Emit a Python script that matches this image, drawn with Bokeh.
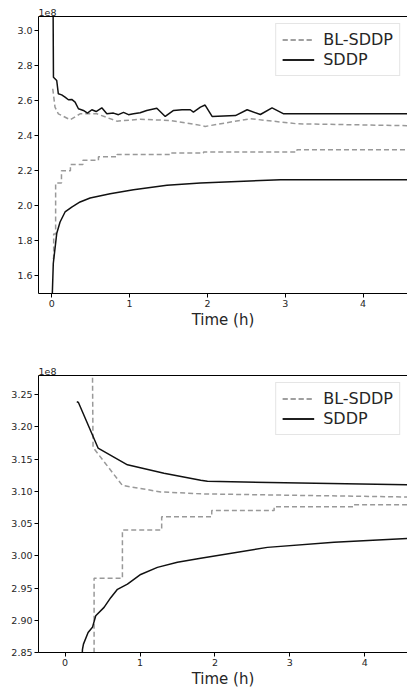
from bokeh.plotting import figure
from bokeh.layouts import column
from bokeh.models import (Range1d, LinearAxis, FixedTicker, NumeralTickFormatter,
                          Legend, LegendItem)
from bokeh.embed import file_html
from bokeh.resources import INLINE

# ---------------- data (objective values in units of 1e8, time in hours) ----
# top panel
top_sddp_ub_t = [0.012, 0.022, 0.064, 0.085, 0.128, 0.171, 0.214, 0.257, 0.3, 0.343,
                 0.407, 0.459, 0.515, 0.57, 0.643, 0.708, 0.793, 0.857, 0.922, 0.986,
                 1.05, 1.136, 1.22, 1.35, 1.458, 1.565, 1.673, 1.78, 1.82, 1.91, 1.97,
                 2.06, 2.36, 2.51, 2.68, 2.83, 2.98, 4.6]
top_sddp_ub_v = [3.6, 2.734, 2.715, 2.639, 2.633, 2.62, 2.605, 2.607, 2.592, 2.554,
                 2.544, 2.529, 2.548, 2.538, 2.559, 2.525, 2.529, 2.52, 2.533, 2.52,
                 2.525, 2.531, 2.544, 2.557, 2.51, 2.544, 2.548, 2.548, 2.535, 2.563, 2.575,
                 2.51, 2.515, 2.548, 2.521, 2.559, 2.525, 2.525]
top_sddp_lb_t = [0.004, 0.02, 0.064, 0.107, 0.171, 0.257, 0.364, 0.493, 0.75, 1.05,
                 1.48, 1.91, 2.94, 4.6]
top_sddp_lb_v = [1.45, 1.671, 1.842, 1.908, 1.965, 1.993, 2.022, 2.045, 2.069, 2.092,
                 2.117, 2.13, 2.149, 2.149]
top_bl_ub_t = [0.013, 0.042, 0.085, 0.236, 0.364, 0.579, 0.837, 1.136, 1.52, 1.91,
               1.97, 2.55, 3.15, 4.6]
top_bl_ub_v = [2.668, 2.563, 2.525, 2.491, 2.525, 2.525, 2.483, 2.494, 2.487, 2.459,
               2.453, 2.497, 2.468, 2.457]
top_bl_lb_t = [0.012, 0.025, 0.05, 0.125, 0.24, 0.40, 0.60, 0.84, 1.52, 1.95, 3.15, 4.6]
top_bl_lb_v = [1.70, 1.84, 2.13, 2.20, 2.236, 2.26, 2.28, 2.293, 2.301, 2.307, 2.32, 2.32]

# bottom panel
bot_sddp_ub_t = [0.156, 0.178, 0.44, 0.832, 1.32, 1.81, 1.9, 4.6]
bot_sddp_ub_v = [3.239, 3.2376, 3.167, 3.141, 3.128, 3.117, 3.1154, 3.110]
bot_sddp_lb_t = [0.225, 0.232, 0.245, 0.307, 0.365, 0.409, 0.52, 0.609, 0.699, 0.832,
                 1.009, 1.232, 1.499, 1.81, 2.7, 3.59, 4.6]
bot_sddp_lb_v = [2.84, 2.855, 2.863, 2.881, 2.889, 2.907, 2.92, 2.935, 2.948, 2.956,
                 2.971, 2.982, 2.99, 2.996, 3.013, 3.021, 3.027]
bot_bl_ub_t = [0.358, 0.373, 0.765, 1.276, 1.81, 4.6]
bot_bl_ub_v = [3.40, 3.168, 3.109, 3.099, 3.096, 3.091]
bot_bl_lb_t = [0.386, 0.387, 0.765, 1.289, 1.957, 2.79, 3.85, 4.6]
bot_bl_lb_v = [2.80, 2.965, 3.040, 3.0605, 3.070, 3.076, 3.079, 3.079]

x_ticks = [0, 1, 2, 3, 4]
top_y_ticks = [1.6, 1.8, 2.0, 2.2, 2.4, 2.6, 2.8, 3.0]
bot_y_ticks = [2.85, 2.90, 2.95, 3.00, 3.05, 3.10, 3.15, 3.20, 3.25]

SDDP_COLOR = "#111111"
BL_COLOR = "#999999"
TICK_FONT = "9.5px"
FONT = "DejaVu Sans"


def make_panel(height, top_border, bottom_border, xr, yr, yticks, yfmt,
               sddp_ub, sddp_lb, bl_ub, bl_lb):
    p = figure(width=407, height=height, output_backend="svg", toolbar_location=None,
               x_range=Range1d(*xr), y_range=Range1d(*yr),
               min_border_left=38, min_border_right=0,
               min_border_top=top_border, min_border_bottom=bottom_border,
               title="1e8")
    p.grid.visible = False
    p.outline_line_color = None
    p.background_fill_color = "white"
    p.title.text_font = FONT
    p.title.text_font_size = TICK_FONT
    p.title.text_font_style = "normal"
    p.title.text_color = "#262626"
    p.title.align = "left"
    p.title.standoff = 1
    p.title.offset = 0

    xax = p.below[0]
    yax = p.left[0]
    for ax in (xax, yax):
        ax.axis_line_color = "black"
        ax.major_tick_line_color = "black"
        ax.minor_tick_line_color = None
        ax.major_tick_out = 4
        ax.major_tick_in = 0
        ax.major_label_text_font = FONT
        ax.major_label_text_font_size = TICK_FONT
        ax.major_label_text_color = "#262626"
        ax.major_label_standoff = 2
    xax.ticker = FixedTicker(ticks=x_ticks)
    yax.ticker = FixedTicker(ticks=yticks)
    yax.formatter = NumeralTickFormatter(format=yfmt)
    xax.axis_label = "Time (h)"
    xax.axis_label_text_font = FONT
    xax.axis_label_text_font_size = "15px"
    xax.axis_label_text_font_style = "normal"
    xax.axis_label_text_color = "#262626"
    xax.axis_label_standoff = 1

    # top spine
    top_ax = LinearAxis(ticker=FixedTicker(ticks=[]), major_tick_out=0, major_tick_in=0,
                        minor_tick_out=0, minor_tick_in=0,
                        major_label_text_font_size="0px", axis_line_color="black",
                        axis_line_width=1, major_label_standoff=0)
    p.add_layout(top_ax, "above")

    r_bl1 = p.line(bl_ub[0], bl_ub[1], color=BL_COLOR, line_width=1.5, line_dash="5 3")
    r_bl2 = p.step(bl_lb[0], bl_lb[1], mode="after", color=BL_COLOR, line_width=1.5,
                   line_dash="5 3")
    r_s1 = p.line(sddp_ub[0], sddp_ub[1], color=SDDP_COLOR, line_width=1.5)
    r_s2 = p.line(sddp_lb[0], sddp_lb[1], color=SDDP_COLOR, line_width=1.5)

    legend = Legend(items=[LegendItem(label="BL-SDDP", renderers=[r_bl1, r_bl2]),
                           LegendItem(label="SDDP", renderers=[r_s1, r_s2])],
                    location="top_right")
    legend.label_text_font = FONT
    legend.label_text_font_size = "16px"
    legend.label_text_color = "#262626"
    legend.glyph_width = 32
    legend.glyph_height = 19
    legend.label_height = 19
    legend.label_standoff = 9
    legend.padding = 6
    legend.spacing = 1
    legend.margin = 7
    legend.border_line_color = "#cccccc"
    legend.border_line_width = 1
    legend.background_fill_alpha = 0.8
    p.add_layout(legend, "center")
    return p


p1 = make_panel(365, 16, 72, (-0.17, 4.57), (1.50, 3.08), top_y_ticks, "0.0",
                (top_sddp_ub_t, top_sddp_ub_v), (top_sddp_lb_t, top_sddp_lb_v),
                (top_bl_ub_t, top_bl_ub_v), (top_bl_lb_t, top_bl_lb_v))
p2 = make_panel(329, 10, 42, (-0.355, 4.57), (2.85, 3.2795), bot_y_ticks, "0.00",
                (bot_sddp_ub_t, bot_sddp_ub_v), (bot_sddp_lb_t, bot_sddp_lb_v),
                (bot_bl_ub_t, bot_bl_ub_v), (bot_bl_lb_t, bot_bl_lb_v))

layout = column(p1, p2, spacing=0)
open("out.html", "w").write(file_html(layout, INLINE))
